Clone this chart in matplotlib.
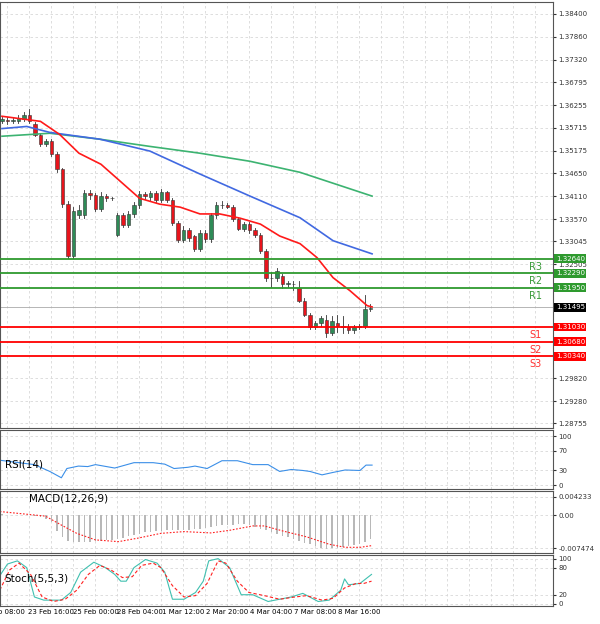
import matplotlib
matplotlib.use("Agg")
import matplotlib.pyplot as plt
import numpy as np

opens = [1.3587,1.3590,1.3587,1.3587,1.3592,1.3603,1.3580,1.3556,1.3533,1.3540,1.3510,1.3474,1.3392,1.3270,1.3366,1.3366,
         1.3418,1.3413,1.3381,1.3411,1.3406,1.3320,1.3366,1.3343,1.3369,1.3390,1.3416,1.3409,1.3418,1.3402,1.3420,1.3402,
         1.3348,1.3308,1.3331,1.3317,1.3287,1.3324,1.3310,1.3366,1.3390,1.3390,1.3386,1.3357,1.3334,1.3346,1.3331,1.3320,
         1.3282,1.3217,1.3217,1.3224,1.3205,1.3205,1.3195,1.3165,1.3132,1.3102,1.3111,1.3120,1.3088,1.3113,1.3106,1.3102,
         1.3095,1.3102,1.3104,1.3146]
closes = [1.3592,1.3587,1.3590,1.3596,1.3603,1.3587,1.3556,1.3533,1.3540,1.3510,1.3474,1.3392,1.3270,1.3376,1.3378,1.3418,
          1.3413,1.3381,1.3411,1.3406,1.3406,1.3366,1.3343,1.3369,1.3390,1.3416,1.3411,1.3418,1.3402,1.3420,1.3402,1.3348,
          1.3308,1.3331,1.3313,1.3287,1.3324,1.3310,1.3366,1.3390,1.3390,1.3386,1.3357,1.3334,1.3346,1.3331,1.3320,1.3282,
          1.3217,1.3217,1.3235,1.3205,1.3205,1.3203,1.3165,1.3132,1.3102,1.3111,1.3123,1.3088,1.3116,1.3106,1.3102,1.3095,
          1.3102,1.3106,1.3146,1.3146]
highs = [1.3597,1.3597,1.3596,1.3602,1.3610,1.3615,1.3585,1.3560,1.3545,1.3545,1.3514,1.3478,1.3400,1.3385,1.3390,1.3425,
         1.3425,1.3418,1.3420,1.3416,1.3410,1.3372,1.3372,1.3376,1.3398,1.3424,1.3420,1.3424,1.3424,1.3428,1.3424,1.3406,
         1.3352,1.3340,1.3336,1.3320,1.3330,1.3330,1.3372,1.3398,1.3400,1.3394,1.3390,1.3362,1.3350,1.3350,1.3336,1.3324,
         1.3286,1.3232,1.3242,1.3228,1.3212,1.3210,1.3210,1.3170,1.3136,1.3118,1.3128,1.3130,1.3128,1.3130,1.3128,1.3110,
         1.3108,1.3110,1.3178,1.3158]
lows = [1.3582,1.3580,1.3582,1.3582,1.3588,1.3582,1.3552,1.3528,1.3528,1.3506,1.3468,1.3385,1.3266,1.3266,1.3360,1.3360,
        1.3405,1.3375,1.3375,1.3400,1.3402,1.3316,1.3338,1.3338,1.3362,1.3384,1.3404,1.3402,1.3398,1.3398,1.3396,1.3342,
        1.3302,1.3302,1.3306,1.3282,1.3282,1.3302,1.3304,1.3360,1.3384,1.3382,1.3352,1.3330,1.3328,1.3325,1.3315,1.3278,
        1.3212,1.3196,1.3210,1.3195,1.3196,1.3190,1.3162,1.3128,1.3098,1.3098,1.3106,1.3080,1.3084,1.3092,1.3088,1.3088,
        1.3088,1.3098,1.3100,1.3140]

ma_red_idx = [0,7,10.5,14,18,21.5,25,28.7,32.4,36,39.6,43.3,47,50.5,54.2,57.3,60.2,63.3,66.4,67.3]
ma_red = [1.3599,1.3587,1.3556,1.3512,1.3486,1.3446,1.3406,1.3392,1.3385,1.3369,1.3369,1.3359,1.3345,1.3317,1.3299,
          1.3266,1.3219,1.3188,1.3153,1.3150]
ma_blue_idx = [0,4.5,8.7,17.8,26.9,36,45.1,54.2,60.2,67.3]
ma_blue = [1.3570,1.3575,1.3561,1.3545,1.3517,1.3463,1.3411,1.3360,1.3306,1.3275]
ma_green_idx = [0,8.7,17.8,26.9,36,45.1,54.2,67.3]
ma_green = [1.3552,1.3559,1.3545,1.3528,1.3512,1.3493,1.3467,1.3411]

levels = [1.3264,1.3229,1.3195,1.3103,1.3068,1.3034]
level_names = ["R3","R2","R1","S1","S2","S3"]
level_labels = ["1.32640","1.32290","1.31950","1.31030","1.30680","1.30340"]
current_price = 1.31495
price_ticks = [1.38400,1.37860,1.37320,1.36795,1.36255,1.35715,1.35175,1.34650,1.34110,1.33570,1.33045,1.32505,
               1.29820,1.29280,1.28755]

rsi_idx = [-0.4,5.9,8.7,10.8,11.8,13.9,15.6,17,20.5,24,27.5,29.6,31.3,33.8,35.1,37.3,40,42.8,45.6,48.4,50.5,52.6,
           54.7,56,58.2,60.2,62.4,65.1,66.2,67.3]
rsi = [51,42,28,15,34,39,38,42,35,46,46,43,34,36.5,39,34,50,50,42,42,28,32,30,28,21,26,31,30,41,41]

macd_hist = [0.3,0.2,0.1,0.1,0,0,-0.2,-0.4,-0.8,-1.5,-3.5,-4.9,-5.8,-6.0,-6.0,-6.0,-6.0,-5.9,-5.8,-5.7,-5.6,-5.4,
             -5.1,-4.8,-4.5,-4.2,-3.9,-3.7,-3.6,-3.5,-3.4,-3.4,-3.4,-3.4,-3.4,-3.2,-3.0,-2.8,-2.6,-2.5,-2.3,-2.2,-2.1,
             -2.0,-1.9,-2.1,-2.6,-3.1,-3.4,-3.8,-4.2,-4.7,-5.0,-5.4,-5.8,-6.2,-6.6,-7.0,-7.4,-7.6,-7.5,-7.4,-7.2,-7.0,
             -6.8,-6.5,-6.0,-5.3]
macd_sig_idx = [-0.4,7.9,10.8,13.6,17,21.2,24.7,28.9,33.1,38,41.4,45.6,47.7,51.2,55.4,59.5,62.4,65.1,67.3]
macd_sig = [0.9,-0.15,-2.2,-4.1,-5.6,-6.0,-5.2,-4.1,-3.7,-4.0,-3.4,-2.4,-2.4,-3.6,-4.9,-6.6,-7.3,-7.3,-6.9]

sto_idx = [-0.4,1,2.8,4.5,5.9,7.6,10.8,12.5,14.3,16.7,18.8,20.5,21.6,22.6,24,26.1,28.2,29.6,31,33.1,35.2,36.6,37.6,
           39.3,41.4,43.5,45.6,48.4,50.5,52.6,54.7,57.5,59.5,61.6,62.3,63,65.1,67.2]
sto_main = [62,88,95,80,15,8,8,25,70,92,80,65,50,50,80,98,90,70,10,10,25,50,95,100,80,20,20,5,10,15,23,5,8,30,55,42,45,65]
sto_sig_idx = [-0.4,1.4,3.1,5.2,7.3,9.4,11.5,13.6,15.7,17.8,19.8,21.9,23.7,25.4,27.5,28.9,31,33.1,35.2,37.3,39.3,40.7,
               42.8,44.9,47.7,50.5,53.3,55.4,58.2,60.2,62.3,64.4,65.8,67.2]
sto_sig = [30,75,90,65,15,5,10,30,65,85,75,58,60,85,90,80,40,15,18,45,95,90,50,25,18,10,15,18,8,12,35,45,45,50]

time_idx = [1,9,17,25,33,41,49,57,65]
time_labels = ["Feb 08:00","23 Feb 16:00","25 Feb 00:00","28 Feb 04:00","1 Mar 12:00","2 Mar 20:00",
               "4 Mar 04:00","7 Mar 08:00","8 Mar 16:00"]

W, H = 600, 624
fig = plt.figure(figsize=(6, 6.24), dpi=100)
def mkax(top, bot):
    return fig.add_axes([0, 1 - bot / H, 553 / W, (bot - top) / H])

XL = (-0.36, 100.2)
grid_kw = dict(color="#d8d8d8", linestyle=(0, (3, 3)), linewidth=0.6)
ax = mkax(2, 428)
ax_rsi = mkax(430, 489)
ax_macd = mkax(491, 553)
ax_sto = mkax(555, 606)
vgrid = np.arange(1, 100, 4)
for a in [ax, ax_rsi, ax_macd, ax_sto]:
    a.set_xlim(*XL)
    a.set_xticks(vgrid)
    a.tick_params(axis="x", length=0, labelbottom=False)
    a.grid(axis="x", **grid_kw)
    a.yaxis.tick_right()
    a.tick_params(axis="y", labelsize=5, length=2, pad=2, colors="#333333")
    for s in a.spines.values():
        s.set_color("#555555"); s.set_linewidth(0.8)
    a.set_axisbelow(True)

# main
ax.set_ylim(1.28649, 1.38681)
ax.set_yticks(price_ticks)
ax.set_yticklabels([f"{p:.5f}" for p in price_ticks])
ax.grid(axis="y", **grid_kw)
for i, (o, c, h, l) in enumerate(zip(opens, closes, highs, lows)):
    col = "#2e8b57" if c >= o else "#e8141c"
    ax.plot([i, i], [l, h], color="#333333", lw=0.6, zorder=2)
    ax.bar(i, max(abs(c - o), 0.00006), bottom=min(o, c), width=0.7, color=col, edgecolor="#333333", lw=0.4, zorder=3)
ax.plot(ma_green_idx, ma_green, color="#3cb371", lw=1.2, zorder=4)
ax.plot(ma_blue_idx, ma_blue, color="#4169e1", lw=1.2, zorder=4)
ax.plot(ma_red_idx, ma_red, color="#ff1a1a", lw=1.2, zorder=4)
for lv, nm, lb in zip(levels, level_names, level_labels):
    col = "#2e9a2e" if nm.startswith("R") else "#ff0000"
    tcol = "#3a9a3a" if nm.startswith("R") else "#ff3030"
    ax.axhline(lv, color=col, lw=1.3, zorder=5)
    ax.text(97, lv - 0.0019, nm, color=tcol, fontsize=7, ha="center", va="center")
    ax.text(1.005, lv, lb, transform=ax.get_yaxis_transform(), fontsize=5, color="white", va="center", ha="left",
            bbox=dict(boxstyle="square,pad=0.2", fc=col, ec="none"), clip_on=False)
ax.axhline(current_price, color="#aaaaaa", lw=0.6, zorder=1)
ax.text(1.005, current_price, "1.31495", transform=ax.get_yaxis_transform(), fontsize=5, color="white",
        va="center", ha="left", bbox=dict(boxstyle="square,pad=0.2", fc="black", ec="none"), clip_on=False)

# RSI
ax_rsi.set_ylim(-8, 113)
ax_rsi.set_yticks([0, 30, 70, 100])
ax_rsi.grid(axis="y", **grid_kw)
ax_rsi.plot(rsi_idx, rsi, color="#3b8fe8", lw=0.8)
ax_rsi.text(0.5, 42, "RSI(14)", fontsize=7.5, va="center", ha="left")

# MACD
ax_macd.set_ylim(-8.6, 5.6)
ax_macd.set_yticks([4.233, 0, -7.474])
ax_macd.set_yticklabels(["0.004233", "0.00", "-0.007474"])
ax_macd.grid(axis="y", **grid_kw)
ax_macd.bar(np.arange(len(macd_hist)), macd_hist, width=0.25, color="#b8b8b8")
ax_macd.plot(macd_sig_idx, macd_sig, color="#ff2020", lw=0.8, linestyle=(0, (1.5, 1.5)))
ax_macd.text(5, 3.8, "MACD(12,26,9)", fontsize=7.5, va="center", ha="left")

# Stoch
ax_sto.set_ylim(-5, 108)
ax_sto.set_yticks([0, 20, 80, 100])
ax_sto.grid(axis="y", **grid_kw)
ax_sto.plot(sto_idx, sto_main, color="#40c0b0", lw=0.8)
ax_sto.plot(sto_sig_idx, sto_sig, color="#ff2020", lw=0.8, linestyle=(0, (3, 2)))
ax_sto.text(0.5, 55, "Stoch(5,5,3)", fontsize=7.5, va="center", ha="left")
for ti, tl in zip(time_idx, time_labels):
    ax_sto.text(ti, -12, tl, fontsize=5, ha="center", va="top", transform=ax_sto.transData, clip_on=False)

fig.savefig("out.png", dpi=100, facecolor="white")
